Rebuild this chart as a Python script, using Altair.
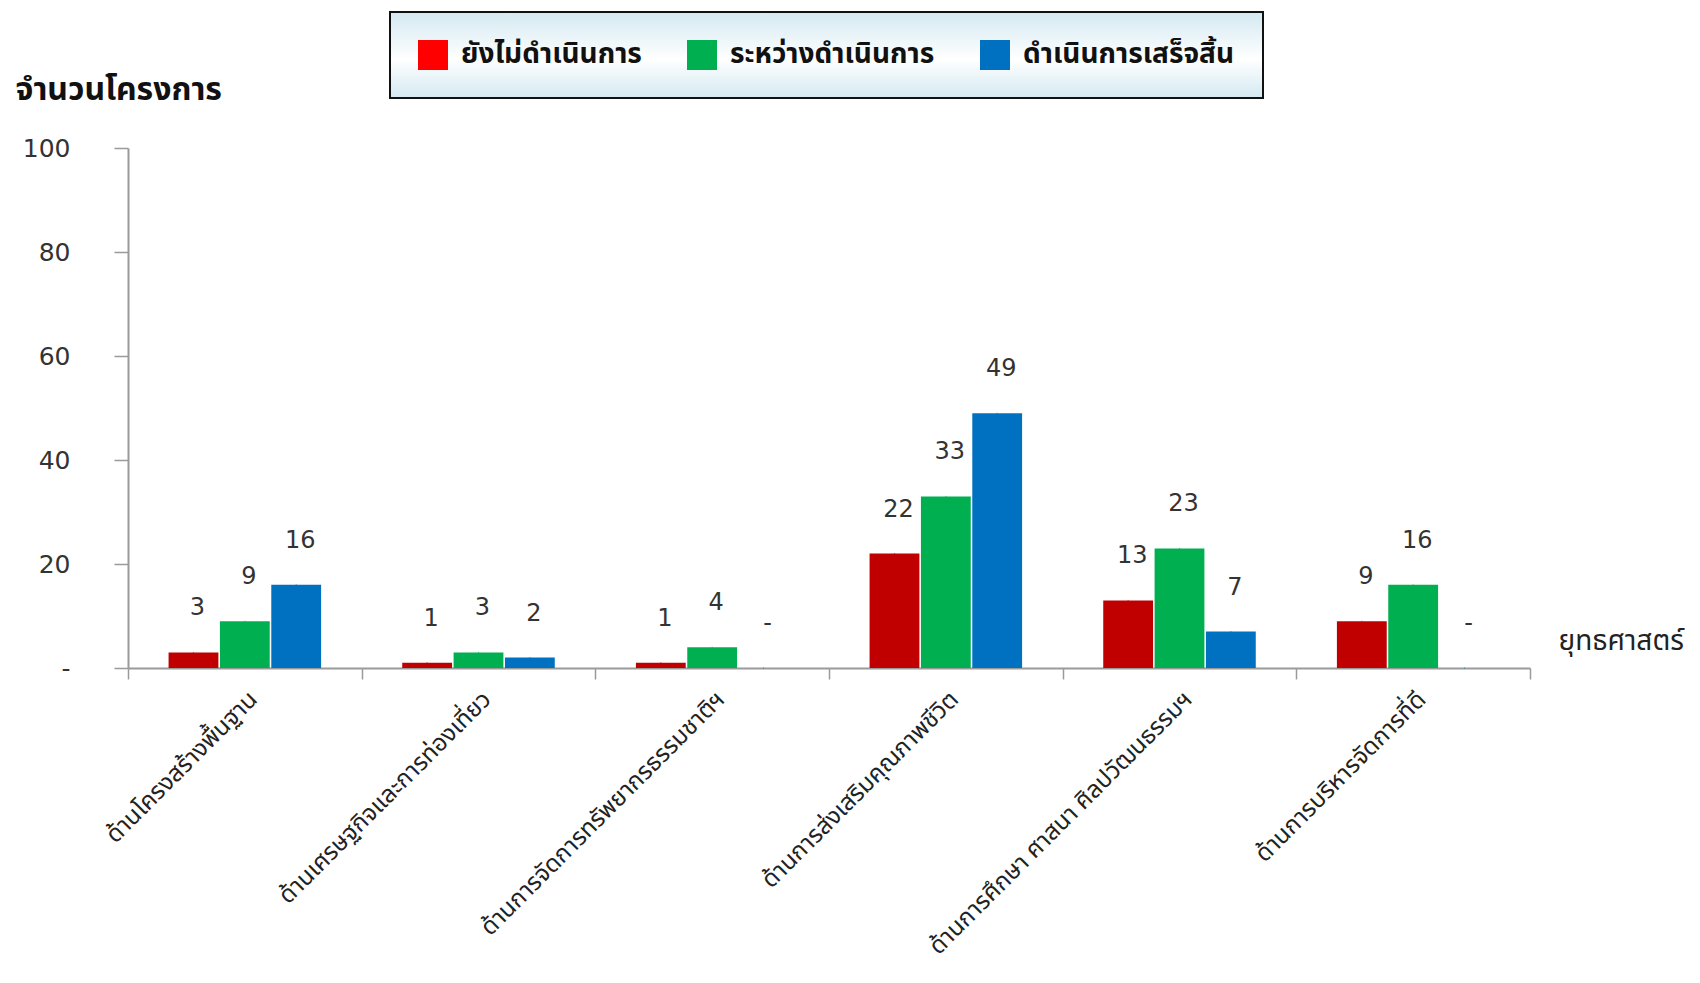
import altair as alt
import pandas as pd

categories = [
    "ด้านโครงสร้างพื้นฐาน",
    "ด้านเศรษฐกิจและการท่องเที่ยว",
    "ด้านการจัดการทรัพยากรธรรมชาติฯ",
    "ด้านการส่งเสริมคุณภาพชีวิต",
    "ด้านการศึกษา ศาสนา ศิลปวัฒนธรรมฯ",
    "ด้านการบริหารจัดการที่ดี",
]
statuses = ["ยังไม่ดำเนินการ", "ระหว่างดำเนินการ", "ดำเนินการเสร็จสิ้น"]
not_started = [3, 1, 1, 22, 13, 9]
in_progress = [9, 3, 4, 33, 23, 16]
completed = [16, 2, 0, 49, 7, 0]

bar_colors = ["#C00000", "#00B050", "#0070C0"]
legend_colors = ["#FF0000", "#00B050", "#0070C0"]

rows = []
for s, vals in zip(statuses, [not_started, in_progress, completed]):
    for c, v in zip(categories, vals):
        rows.append({"cat": c, "status": s, "value": v, "label": "-" if v == 0 else str(v)})
df = pd.DataFrame(rows)

THAI = "Noto Sans Thai, Noto Sans Thai UI, Loma, Garuda, Tahoma, sans-serif"

x = alt.X(
    "cat:N",
    sort=categories,
    scale=alt.Scale(paddingInner=0, paddingOuter=0),
    axis=alt.Axis(
        tickBand="extent",
        labelAngle=-45,
        labelAlign="right",
        labelBaseline="top",
        labelPadding=8,
        labelFont=THAI,
        labelFontSize=24,
        labelColor="#222222",
        labelLimit=700,
        tickSize=11,
        tickColor="#9a9a9a",
        tickWidth=1.5,
        domainColor="#9a9a9a",
        domainWidth=2,
        title="ยุทธศาสตร์",
        titleFont=THAI,
        titleFontSize=28,
        titleFontWeight="normal",
        titleColor="#222222",
        titleX=1430,
        titleY=-27,
        titleAlign="left",
        titleBaseline="middle",
        titleAngle=0,
    ),
)
xo = alt.XOffset("status:N", sort=statuses, scale=alt.Scale(paddingOuter=0.79, paddingInner=0.03))

y = alt.Y(
    "value:Q",
    scale=alt.Scale(domain=[0, 100]),
    axis=alt.Axis(
        values=[0, 20, 40, 60, 80, 100],
        labelExpr="datum.value == 0 ? '-' : datum.label",
        grid=False,
        tickSize=14,
        tickColor="#9a9a9a",
        tickWidth=1.5,
        domainColor="#9a9a9a",
        domainWidth=2,
        labelPadding=44,
        labelFont="DejaVu Sans",
        labelFontSize=25,
        labelColor="#333333",
        title="จำนวนโครงการ",
        titleFont=THAI,
        titleFontSize=32,
        titleFontWeight="bold",
        titleColor="#111111",
        titleAngle=0,
        titleX=-113,
        titleY=-59,
        titleAlign="left",
        titleBaseline="middle",
    ),
)

legend_layer = alt.Chart(df).mark_square(size=1, filled=True).encode(
    x=x,
    xOffset=xo,
    y=y,
    fill=alt.Fill(
        "status:N",
        sort=statuses,
        scale=alt.Scale(domain=statuses, range=legend_colors),
        legend=alt.Legend(
            title=None,
            orient="none",
            legendX=262,
            legendY=-136,
            direction="horizontal",
            symbolType="square",
            symbolSize=900,
            symbolOpacity=1,
            symbolStrokeWidth=0,
            labelFont=THAI,
            labelFontSize=28,
            labelFontWeight="bold",
            labelColor="#111111",
            labelOffset=13,
            labelLimit=400,
            columnPadding=45,
            padding=28,
            strokeColor="#111111",
            fillColor={"expr": "{gradient: 'linear', x1: 0, y1: 0, x2: 0, y2: 1, stops: [{offset: 0, color: '#d3e9f1'}, {offset: 0.55, color: '#ffffff'}, {offset: 1, color: '#d3e9f1'}]}"},
        ),
    ),
)

bars = alt.Chart(df).mark_bar().encode(
    x=x,
    xOffset=xo,
    y=y,
    color=alt.Color("status:N", sort=statuses, scale=alt.Scale(domain=statuses, range=bar_colors), legend=None),
)

labels = alt.Chart(df).mark_text(
    font="DejaVu Sans", fontSize=24, color="#333333", baseline="middle", dy=-44, dx=4
).encode(x=x, xOffset=xo, y=y, text="label:N")

chart = (
    alt.layer(legend_layer, bars, labels)
    .properties(
        width=1402,
        height=520,
        autosize=alt.AutoSizeParams(type="none"),
        padding={"left": 120, "top": 140, "right": 158, "bottom": 304},
        background="white",
    )
    .configure_view(strokeWidth=0)
    .configure_legend(strokeWidth=2)
)

chart.save("out.html", embed_options={"renderer": "svg", "actions": False})
